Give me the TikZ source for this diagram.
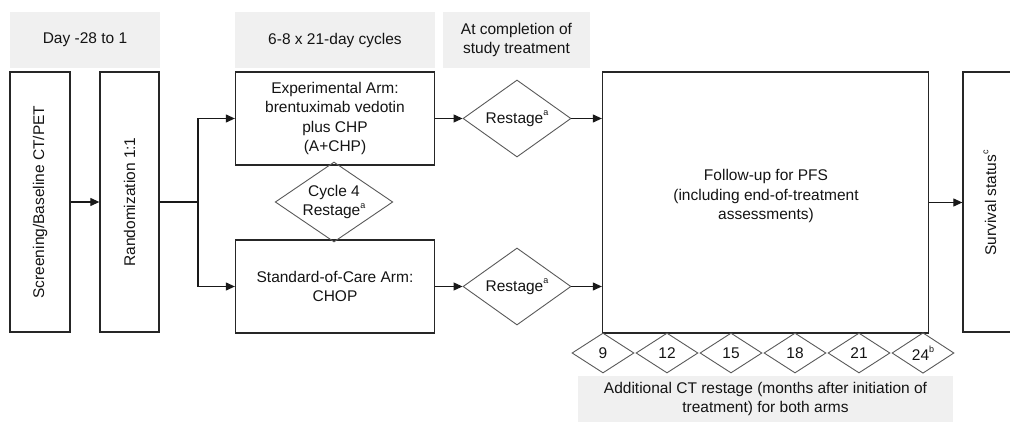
\documentclass[tikz,border=0pt]{standalone}
\usepackage{fontspec}
\setmainfont{Liberation Sans}
\usetikzlibrary{shapes.geometric,arrows.meta}
\newcommand{\sups}[1]{\raisebox{0.5em}{\fontsize{9}{9}\selectfont #1}}
\begin{document}
\begin{tikzpicture}[x=1pt,y=-1pt,
  box/.style={draw=black!85, line width=1.3pt, inner sep=0pt, align=center},
  dia/.style={draw=black!65, line width=0.9pt, diamond, inner sep=1pt, align=center},
  hdr/.style={fill=black!6, inner sep=0pt, align=center},
  arr/.style={-{Triangle[length=9pt,width=8pt]}, line width=1.1pt, draw=black!90},
  ln/.style={line width=1.1pt, draw=black!90},
  every node/.style={font=\fontsize{15.5}{19.5}\selectfont, text=black!92}
]
\useasboundingbox (0,0) rectangle (1010,422);
\clip (0,0) rectangle (1010,422);

% headers
\node[hdr, minimum width=150, minimum height=56] (h1) at (85,40) {Day -28 to 1};
\node[hdr, minimum width=200, minimum height=56] (h2) at (335,40) {6-8 x 21-day cycles};
\node[hdr, minimum width=147, minimum height=56] (h3) at (516.5,40) {At completion of\\study treatment};

% main boxes
\node[box, minimum width=60, minimum height=260] (scr) at (40,202) {};
\node[rotate=90] (scrt) at (scr.center) {Screening/Baseline CT/PET};
\node[box, minimum width=59, minimum height=260] (rand) at (129.5,202) {};
\node[rotate=90] (randt) at (rand.center) {Randomization 1:1};
\node[box, minimum width=199, minimum height=93] (exp) at (335,118.5) {Experimental Arm:\\brentuximab vedotin\\plus CHP\\(A+CHP)};
\node[box, minimum width=199, minimum height=93] (std) at (335,286.5) {Standard-of-Care Arm:\\CHOP};
\node[dia, aspect=1.47, minimum width=110, minimum height=74] (cyc) at (334,202) {Cycle 4\\Restage\sups{a}};
\node[dia, aspect=1.47, minimum width=108, minimum height=77] (r1) at (517,118.5) {Restage\sups{a}};
\node[dia, aspect=1.47, minimum width=108, minimum height=77] (r2) at (517,286.5) {Restage\sups{a}};
\node[box, minimum width=326, minimum height=261] (fu) at (765.5,202.5) {};
\node[align=center] (fut) at (766,196) {Follow-up for PFS\\(including end-of-treatment\\assessments)};
\node[box, minimum width=55, minimum height=260] (surv) at (990.5,202) {};
\node[rotate=90] (survt) at (990,203) {Survival status\sups{c}};

% additional restage diamonds
\node[dia, minimum width=62, minimum height=40] (m9) at (603,353) {9};
\node[dia, minimum width=62, minimum height=40] (m12) at (667,353) {12};
\node[dia, minimum width=62, minimum height=40] (m15) at (731,353) {15};
\node[dia, minimum width=62, minimum height=40] (m18) at (795,353) {18};
\node[dia, minimum width=62, minimum height=40] (m21) at (859,353) {21};
\node[dia, minimum width=62, minimum height=40] (m24) at (923,353) {24\sups{b}};
\node[hdr, minimum width=375, minimum height=46] (addl) at (765.5,399) {Additional CT restage (months after initiation of\\treatment) for both arms};

% connectors
\coordinate (br) at (198,202);
\draw[arr] (scr.east) -- (rand.west);
\draw[ln] (rand.east) -- (br);
\draw[arr] (br) |- (exp.west);
\draw[arr] (br) |- (std.west);
\draw[arr] (exp.east) -- (r1.west);
\draw[arr] (std.east) -- (r2.west);
\draw[arr] (r1.east) -- (r1.east -| fu.west);
\draw[arr] (r2.east) -- (r2.east -| fu.west);
\draw[arr] (fu.east) -- (fu.east -| surv.west);
\end{tikzpicture}
\end{document}
